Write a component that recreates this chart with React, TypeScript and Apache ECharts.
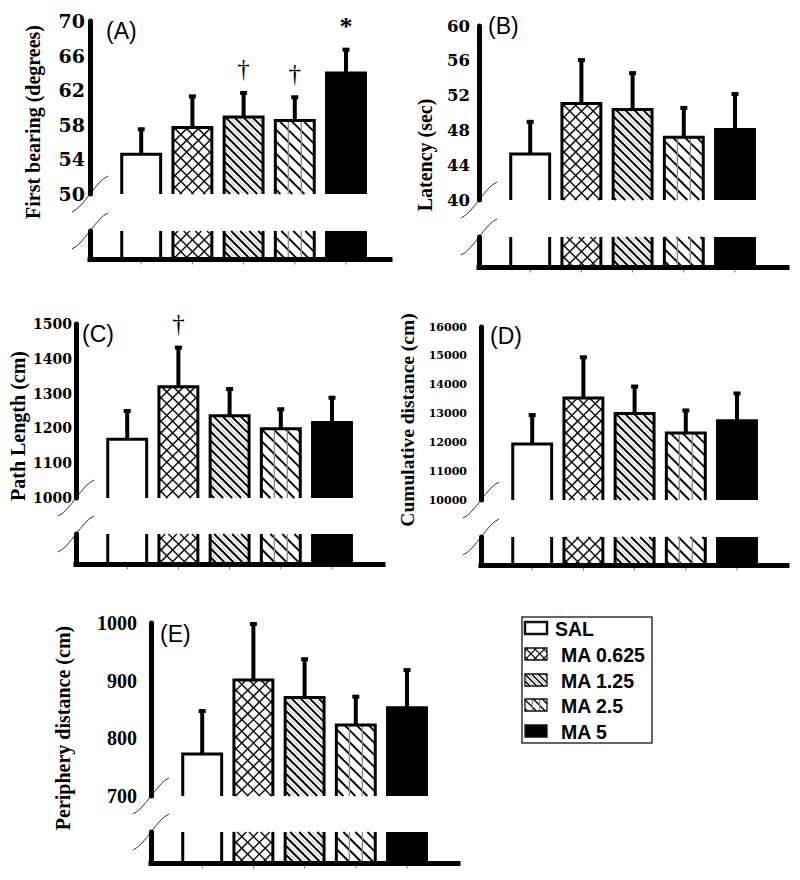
import React, { useEffect, useRef } from 'react';
import * as echarts from 'echarts';

// ---------------- data ----------------
const groups = ['SAL', 'MA 0.625', 'MA 1.25', 'MA 2.5', 'MA 5'];

const meanA = [54.6, 57.7, 58.9, 58.5, 64.0];
const semA = [3.0, 3.7, 2.9, 2.8, 2.8];
const markA = ['', '', '†', '†', '*'];
const ticksA = [50, 54, 58, 62, 66, 70];

const meanB = [45.3, 51.1, 50.4, 47.2, 48.1];
const semB = [3.8, 5.1, 4.3, 3.5, 4.2];
const markB = ['', '', '', '', ''];
const ticksB = [40, 44, 48, 52, 56, 60];

const meanC = [1169, 1320, 1236, 1199, 1217];
const semC = [84, 115, 80, 59, 74];
const markC = ['', '†', '', '', ''];
const ticksC = [1000, 1100, 1200, 1300, 1400, 1500];

const meanD = [11940, 13540, 13000, 12320, 12745];
const semD = [1040, 1445, 970, 820, 985];
const markD = ['', '', '', '', ''];
const ticksD = [10000, 11000, 12000, 13000, 14000, 15000, 16000];

const meanE = [773, 901, 871, 823, 853];
const semE = [76, 99, 68, 51, 67];
const markE = ['', '', '', '', ''];
const ticksE = [700, 800, 900, 1000];

const titles = [
  'First bearing (degrees)',
  'Latency (sec)',
  'Path Length (cm)',
  'Cumulative distance (cm)',
  'Periphery distance (cm)',
];
const letters = ['(A)', '(B)', '(C)', '(D)', '(E)'];

const panels = [
  { mean: meanA, sem: semA, mark: markA, ticks: ticksA },
  { mean: meanB, sem: semB, mark: markB, ticks: ticksB },
  { mean: meanC, sem: semC, mark: markC, ticks: ticksC },
  { mean: meanD, sem: semD, mark: markD, ticks: ticksD },
  { mean: meanE, sem: semE, mark: markE, ticks: ticksE },
];

// ---------------- layout ----------------
const STEP = 51.2;
const BAR_W = 0.76;
const layout = [
  { left: 90, top: 21, bottom: 194, stubTop: 231, base: 259, right: 390, lblFont: 'DejaVu Serif', lblSize: 19, lblMargin: 5, title: [33, 122], titleSize: 20, letter: [106, 31] },
  { left: 479, top: 26, bottom: 200, stubTop: 237, base: 267, right: 787, lblFont: 'DejaVu Serif', lblSize: 16.5, lblMargin: 9, title: [425, 155], titleSize: 20, letter: [488, 26] },
  { left: 76, top: 324, bottom: 498, stubTop: 534, base: 564, right: 383, lblFont: 'DejaVu Serif', lblSize: 14, lblMargin: 4, title: [18, 426], titleSize: 20, letter: [82, 334] },
  { left: 481, top: 327, bottom: 500, stubTop: 537, base: 565, right: 787, lblFont: 'DejaVu Serif', lblSize: 11, lblMargin: 14, title: [407, 420], titleSize: 19.5, letter: [490, 336] },
  { left: 151, top: 623, bottom: 796, stubTop: 832, base: 863, right: 458, lblFont: 'Liberation Serif', lblSize: 20, lblMargin: 14, title: [63, 728], titleSize: 20, letter: [160, 634] },
];
const legendBox = { x: 522, y: 617, w: 130, h: 126, rows: [628, 654, 680, 705, 731] };

// ---------------- helpers ----------------
type Seg = [number, number, number, number];
function diag(x0: number, y0: number, x1: number, y1: number, dir: number, s: number, phase: number): Seg[] {
  const segs: Seg[] = [];
  if (dir > 0) {
    const cMin = x0 - y1, cMax = x1 - y0;
    const b = x0 + phase;
    const k = Math.ceil((cMin - b) / s);
    for (let c = b + k * s; c <= cMax; c += s) {
      const ya = Math.max(y0, x0 - c), yb = Math.min(y1, x1 - c);
      if (yb - ya > 0.5) segs.push([ya + c, ya, yb + c, yb]);
    }
  } else {
    const cMin = x0 + y0, cMax = x1 + y1;
    const b = x0 + phase;
    const k = Math.ceil((cMin - b) / s);
    for (let c = b + k * s; c <= cMax; c += s) {
      const ya = Math.max(y0, c - x1), yb = Math.min(y1, c - x0);
      if (yb - ya > 0.5) segs.push([c - ya, ya, c - yb, yb]);
    }
  }
  return segs;
}

function fillEls(g: number, x0: number, y0: number, x1: number, y1: number, k = 1): any[] {
  const els: any[] = [];
  els.push({ type: 'rect', shape: { x: x0, y: y0, width: x1 - x0, height: y1 - y0 }, style: { fill: g === 4 ? '#000' : '#fff' } });
  const add = (segs: Seg[], stroke: string, lw: number) =>
    segs.forEach(([a, b, c, d]) =>
      els.push({ type: 'line', shape: { x1: a, y1: b, x2: c, y2: d }, style: { stroke, lineWidth: lw } })
    );
  if (g === 1) {
    add(diag(x0, y0, x1, y1, 1, 11.7 * k, 2 * k), '#111', 1.5 * Math.max(k, 0.7));
    add(diag(x0, y0, x1, y1, -1, 11.7 * k, 2 * k), '#111', 1.5 * Math.max(k, 0.7));
  } else if (g === 2) {
    add(diag(x0, y0, x1, y1, 1, 9 * k, 1 * k), '#000', 2 * Math.max(k, 0.6));
    add(diag(x0, y0, x1, y1, 1, 9 * k, 5.5 * k), '#a0a0a0', 0.9);
  } else if (g === 3) {
    add(diag(x0, y0, x1, y1, 1, 12 * k, 3 * k), '#000', 1.8 * Math.max(k, 0.7));
    const w = x1 - x0;
    [1 / 3, 2 / 3].forEach((f) =>
      els.push({ type: 'line', shape: { x1: x0 + w * f, y1: y0, x2: x0 + w * f, y2: y1 }, style: { stroke: '#8a8a8a', lineWidth: 1.3 } })
    );
  }
  return els;
}

function buildOption(): any {
  const grid: any[] = [];
  const xAxis: any[] = [];
  const yAxis: any[] = [];
  const series: any[] = [];
  const graphic: any[] = [];

  panels.forEach((p, i) => {
    const L = layout[i];
    const xMax = (L.right - L.left) / STEP;
    const yMin = p.ticks[0];
    const yMax = p.ticks[p.ticks.length - 1];
    const yInt = p.ticks[1] - p.ticks[0];
    const mi = 2 * i;
    const si = 2 * i + 1;

    // main grid
    grid.push({ left: L.left, top: L.top, width: xMax * STEP, height: L.bottom - L.top, outerBoundsMode: 'none' });
    xAxis.push({ gridIndex: mi, type: 'value', min: 0, max: xMax, show: false });
    yAxis.push({
      gridIndex: mi, type: 'value', min: yMin, max: yMax, interval: yInt,
      axisLine: { show: true, lineStyle: { color: '#000', width: 5 } },
      axisTick: { show: false },
      splitLine: { show: false },
      axisLabel: {
        color: '#000', fontFamily: L.lblFont, fontWeight: 'bold', fontSize: L.lblSize, margin: L.lblMargin,
        formatter: (v: number) => String(v),
      },
    });
    // stub grid
    grid.push({ left: L.left, top: L.stubTop, width: xMax * STEP, height: L.base - L.stubTop, outerBoundsMode: 'none' });
    xAxis.push({
      gridIndex: si, type: 'value', min: 0, max: xMax, z: 5,
      axisLine: { show: true, onZero: false, lineStyle: { color: '#000', width: 5, cap: 'square' } },
      axisTick: { show: false }, axisLabel: { show: false }, splitLine: { show: false },
    });
    yAxis.push({
      gridIndex: si, type: 'value', min: 0, max: 1,
      axisLine: { show: true, lineStyle: { color: '#000', width: 5 } },
      axisTick: { show: false }, axisLabel: { show: false }, splitLine: { show: false },
    });

    const data = p.mean.map((m, j) => [j + 1, m]);

    series.push({
      type: 'custom', name: letters[i], xAxisIndex: mi, yAxisIndex: mi, clip: false,
      data,
      renderItem: (params: any, api: any) => {
        const j = params.dataIndex;
        const x = api.value(0);
        const m = api.value(1);
        const e = p.sem[j];
        const top = api.coord([x, m]);
        const bot = api.coord([x, yMin]);
        const err = api.coord([x, m + e]);
        const w = api.size([BAR_W, 0])[0];
        const cx = top[0];
        const x0 = cx - w / 2, x1 = cx + w / 2;
        const yT = top[1], yB = bot[1], yE = err[1];
        const children: any[] = fillEls(j, x0, yT, x1, yB);
        children.push({ type: 'polyline', shape: { points: [[x0, yB], [x0, yT], [x1, yT], [x1, yB]] }, style: { stroke: '#000', fill: 'none', lineWidth: 3, lineJoin: 'miter' } });
        children.push({ type: 'rect', shape: { x: cx - 2, y: yE, width: 4, height: yT - yE }, style: { fill: '#000' } });
        children.push({ type: 'rect', shape: { x: cx - 3.5, y: yE - 1, width: 7, height: 4 }, style: { fill: '#000' } });
        const mk = p.mark[j];
        if (mk) {
          const isStar = mk === '*';
          children.push({
            type: 'text',
            style: {
              text: mk, x: cx, y: yE - (isStar ? 22 : 23),
              fill: '#000', fontFamily: 'Liberation Serif', fontSize: isStar ? 26 : 25, fontWeight: isStar ? 'bold' : 'normal',
              textAlign: 'center', textVerticalAlign: 'middle', align: 'center', verticalAlign: 'middle',
            },
          });
        }
        return { type: 'group', children };
      },
    });

    series.push({
      type: 'custom', name: letters[i] + ' base', xAxisIndex: si, yAxisIndex: si, clip: false,
      data,
      renderItem: (params: any, api: any) => {
        const j = params.dataIndex;
        const x = api.value(0);
        const t = api.coord([x, 1]);
        const b = api.coord([x, 0]);
        const w = api.size([BAR_W, 0])[0];
        const cx = t[0];
        const x0 = cx - w / 2, x1 = cx + w / 2;
        const children: any[] = fillEls(j, x0, t[1], x1, b[1]);
        [x0, x1].forEach((xx) =>
          children.push({ type: 'line', shape: { x1: xx, y1: t[1], x2: xx, y2: b[1] }, style: { stroke: '#000', lineWidth: 3 } })
        );
        children.push({ type: 'line', shape: { x1: cx, y1: b[1] + 3, x2: cx, y2: b[1] + 5.5 }, style: { stroke: '#777', lineWidth: 1 } });
        return { type: 'group', children };
      },
    });

    // break marks
    [L.bottom, L.stubTop].forEach((yy) => {
      graphic.push({
        type: 'bezierCurve',
        shape: { x1: L.left + 18, y1: yy - 18, cpx1: L.left + 6, cpy1: yy - 13, cpx2: L.left - 6, cpy2: yy + 13, x2: L.left - 18, y2: yy + 18 },
        style: { stroke: '#333', lineWidth: 1, fill: 'none' },
      });
    });

    // axis title
    graphic.push({
      type: 'text', x: L.title[0], y: L.title[1], rotation: Math.PI / 2,
      style: {
        text: titles[i], x: 0, y: 0, fill: '#000',
        fontFamily: 'Liberation Serif', fontWeight: 'bold', fontSize: L.titleSize,
        textAlign: 'center', textVerticalAlign: 'middle', align: 'center', verticalAlign: 'middle',
      },
    });
    // panel letter
    graphic.push({
      type: 'text', x: L.letter[0], y: L.letter[1],
      style: {
        text: letters[i], x: 0, y: 0, fill: '#000',
        fontFamily: 'Liberation Sans', fontSize: 23,
        textAlign: 'left', textVerticalAlign: 'middle', align: 'left', verticalAlign: 'middle',
      },
    });
  });

  // legend
  graphic.push({
    type: 'rect', shape: { x: legendBox.x, y: legendBox.y, width: legendBox.w, height: legendBox.h },
    style: { fill: '#fff', stroke: '#333', lineWidth: 1.5 },
  });
  groups.forEach((name, g) => {
    const yc = legendBox.rows[g];
    const ix0 = 525, ix1 = 547, iy0 = yc - 6, iy1 = yc + 6;
    fillEls(g, ix0, iy0, ix1, iy1, 0.75).forEach((el) => graphic.push(el));
    graphic.push({
      type: 'rect', shape: { x: ix0, y: iy0, width: ix1 - ix0, height: iy1 - iy0 },
      style: { fill: 'none', stroke: '#111', lineWidth: g === 0 ? 2.5 : 1.3 },
    });
    graphic.push({
      type: 'text', x: g === 0 ? 555 : 561, y: yc + 1,
      style: {
        text: name, x: 0, y: 0, fill: '#000',
        fontFamily: 'Liberation Sans', fontWeight: 'bold', fontSize: 19.5,
        textAlign: 'left', textVerticalAlign: 'middle', align: 'left', verticalAlign: 'middle',
      },
    });
  });

  return {
    animation: false,
    backgroundColor: '#fff',
    grid, xAxis, yAxis, series,
    graphic: { elements: graphic },
  };
}

export default function App() {
  const ref = useRef<HTMLDivElement>(null);
  useEffect(() => {
    const chart = echarts.init(ref.current as HTMLDivElement, null, { renderer: 'svg' });
    chart.setOption(buildOption());
    return () => chart.dispose();
  }, []);
  return (
    <div
      ref={ref}
      style={{ position: 'absolute', left: 0, top: 0, width: 800, height: 880, background: '#fff' }}
    />
  );
}
